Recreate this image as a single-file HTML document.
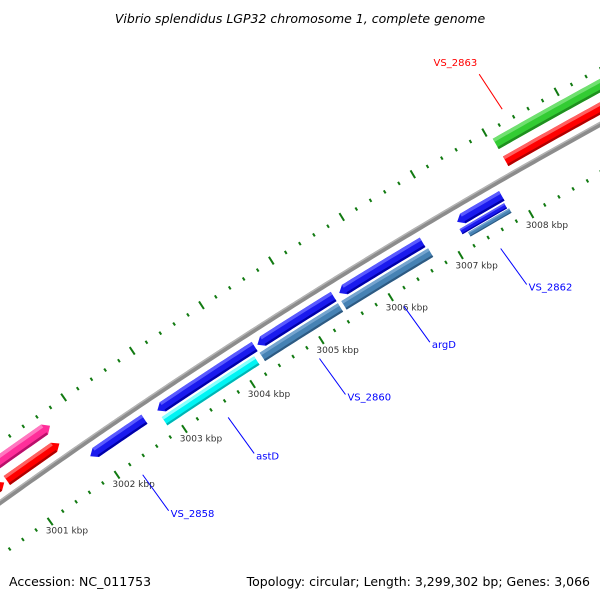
<!DOCTYPE html>
<html><head><meta charset="utf-8">
<style>
html,body{margin:0;padding:0;background:#fff;}
svg{display:block;font-family:"DejaVu Sans","Liberation Sans",sans-serif;}
</style></head>
<body>
<svg id="map" width="600" height="600" viewBox="0 0 600 600" xmlns="http://www.w3.org/2000/svg">
<rect width="600" height="600" fill="#fff"/>
<g id="layer"></g>
<text x="300" y="23" text-anchor="middle" font-size="12.5" font-style="italic" fill="#000">Vibrio splendidus LGP32 chromosome 1, complete genome</text>
<text x="9" y="586" font-size="12.5" fill="#000">Accession: NC_011753</text>
<text x="590" y="586" text-anchor="end" font-size="12.5" fill="#000">Topology: circular; Length: 3,299,302 bp; Genes: 3,066</text>
</svg>
<script>
// feature data (kbp)
const featNames = ["pink-left","red-left-a","red-left-b","VS_2858","blue-3003","astD","VS_2860","steel-3004","blue-3005","argD","blue-3007","VS_2862","steel-3007","green-3008","VS_2863"];
const featStart = [2999.0,2999.5,3000.86,3001.86,3002.85,3002.85,3004.31,3004.28,3005.49,3005.46,3007.17,3007.15,3007.22,3008.05,3008.05];
const featEnd   = [3001.67,3000.82,3001.64,3002.66,3004.27,3004.20,3005.41,3005.41,3006.68,3006.70,3007.80,3007.78,3007.80,3011.0,3010.6];
const featStrand= [1,1,1,-1,-1,0,-1,0,-1,0,-1,0,0,1,1];
const featTrack = ["o2","o1","o1","i1","i1","i2","i1","i2","i1","i2","i1","i2a","i2b","o2","o1"];
const featColor = ["pink","red","red","blue","blue","cyan","blue","steel","blue","steel","blue","blue","steel","green","red"];
const callouts = [["VS_2858",3],["astD",5],["VS_2860",6],["argD",9],["VS_2862",11]];
const outerCallouts = [["VS_2863",14]];
const tickFrom = 2999.8, tickTo = 3009.8;
const majorLabels = [3001,3002,3003,3004,3005,3006,3007,3008];

const CX=3457, CY=5322, TH0=-2.188, DTH=0.01386, K0=3001;
const tracks={o2:[5965,12],o1:[5945,11],i1:[5917,11],i2:[5904,10],i2a:[5906.5,6],i2b:[5900,5]};
const palette={blue:["#1a1aee","#5a5aff","#0000a8"],cyan:["#00f4f4","#8affff","#00b4b4"],steel:["#4682b4","#74a4cf","#2d5a82"],green:["#33cc33","#70e070","#1f8f1f"],red:["#ff0000","#ff6060","#b00000"],pink:["#ff2e9a","#ff78c0","#b8106a"]};
const NS="http://www.w3.org/2000/svg";
const layer=document.getElementById('layer');
function ang(k){return TH0+DTH*(k-K0);}
function pol(k,r){const t=ang(k);return [CX+r*Math.cos(t),CY+r*Math.sin(t)];}
function arcPts(k1,k2,r){const n=Math.max(2,Math.ceil(Math.abs(k2-k1)*20));const p=[];for(let i=0;i<=n;i++){p.push(pol(k1+(k2-k1)*i/n,r));}return p;}
function poly(pts,fill,name){const e=document.createElementNS(NS,'polygon');e.setAttribute('points',pts.map(p=>p[0].toFixed(2)+','+p[1].toFixed(2)).join(' '));e.setAttribute('fill',fill);


layer.appendChild(e);return e;}
function line(x1,y1,x2,y2,stroke,w,name){const e=document.createElementNS(NS,'line');e.setAttribute('x1',x1);e.setAttribute('y1',y1);e.setAttribute('x2',x2);e.setAttribute('y2',y2);e.setAttribute('stroke',stroke);e.setAttribute('stroke-width',w);


layer.appendChild(e);return e;}
function text(x,y,s,size,fill,anchor,name){const e=document.createElementNS(NS,'text');e.setAttribute('x',x);e.setAttribute('y',y);e.setAttribute('font-size',size);e.setAttribute('fill',fill);e.setAttribute('text-anchor',anchor);e.setAttribute('dominant-baseline','middle');e.textContent=s;


layer.appendChild(e);return e;}

// backbone
poly(arcPts(2999.5,3011,5933.5).concat(arcPts(3011,2999.5,5928.5)),"#8c8c8c","backbone");
poly(arcPts(2999.5,3011,5933.5).concat(arcPts(3011,2999.5,5932)),"#b4b4b4","backbone-highlight");

// ticks
for(let i=0;;i++){const k=Math.round((tickFrom+i*0.2)*10)/10;if(k>tickTo)break;
 const major=Math.abs(k-Math.round(k))<1e-6;
 const a=major?[5882,5891]:[5886,5889.5]; const b=major?[5976,5985]:[5978,5981.5];
 let p1=pol(k,a[0]),p2=pol(k,a[1]);line(p1[0],p1[1],p2[0],p2[1],"#117a11",2,major?"inner-major-tick":"inner-minor-tick");
 p1=pol(k,b[0]);p2=pol(k,b[1]);line(p1[0],p1[1],p2[0],p2[1],"#117a11",2,major?"outer-major-tick":"outer-minor-tick");}
majorLabels.forEach(k=>{const p=pol(k+0.1,5869);text(p[0].toFixed(1),p[1].toFixed(1),k+" kbp",9,"#333","middle","tick-label-"+k);});

// features
const AH=0.08;
for(let i=0;i<featNames.length;i++){
 const tr=tracks[featTrack[i]],r=tr[0],w=tr[1],ro=r+w/2,ri=r-w/2,c=palette[featColor[i]];
 const s=featStart[i],e=featEnd[i],st=featStrand[i];
 let shape,s2=s,e2=e;
 if(st===-1){s2=s+AH;shape=arcPts(s2,e,ro).concat(arcPts(e,s2,ri));shape.push(pol(s,r));}
 else if(st===1){e2=e-AH;shape=arcPts(s,e2,ro);shape.push(pol(e,r));shape=shape.concat(arcPts(e2,s,ri));}
 else{shape=arcPts(s,e,ro).concat(arcPts(e,s,ri));}
 poly(shape,c[0],"feature-"+featNames[i]);
 const hw=w*0.3;
 poly(arcPts(s2,e2,ro).concat(arcPts(e2,s2,ro-hw)),c[1],"feature-"+featNames[i]+"-top");
 poly(arcPts(s2,e2,ri+hw*0.7).concat(arcPts(e2,s2,ri)),c[2],"feature-"+featNames[i]+"-bottom");
}
// callouts
callouts.forEach(([lab,idx])=>{const m=(featStart[idx]+featEnd[idx])/2;const p=pol(m,5872);const q=[p[0]+26,p[1]+36];
 line(p[0],p[1],q[0],q[1],"#0000ff",1,"callout-line-"+lab);
 text(q[0]+2,q[1]+3,lab,10,"#0000ff","start","callout-label-"+lab);});
outerCallouts.forEach(([lab,idx])=>{const m=(featStart[idx]+featEnd[idx])/2;const p=pol(m-1.0,5992);const q=[p[0]-23,p[1]-35];
 line(p[0],p[1],q[0],q[1],"#ff0000",1,"callout-line-"+lab);
 text(q[0]-2,q[1]-11,lab,10,"#ff0000","end","callout-label-"+lab);});
</script>
</body></html>
